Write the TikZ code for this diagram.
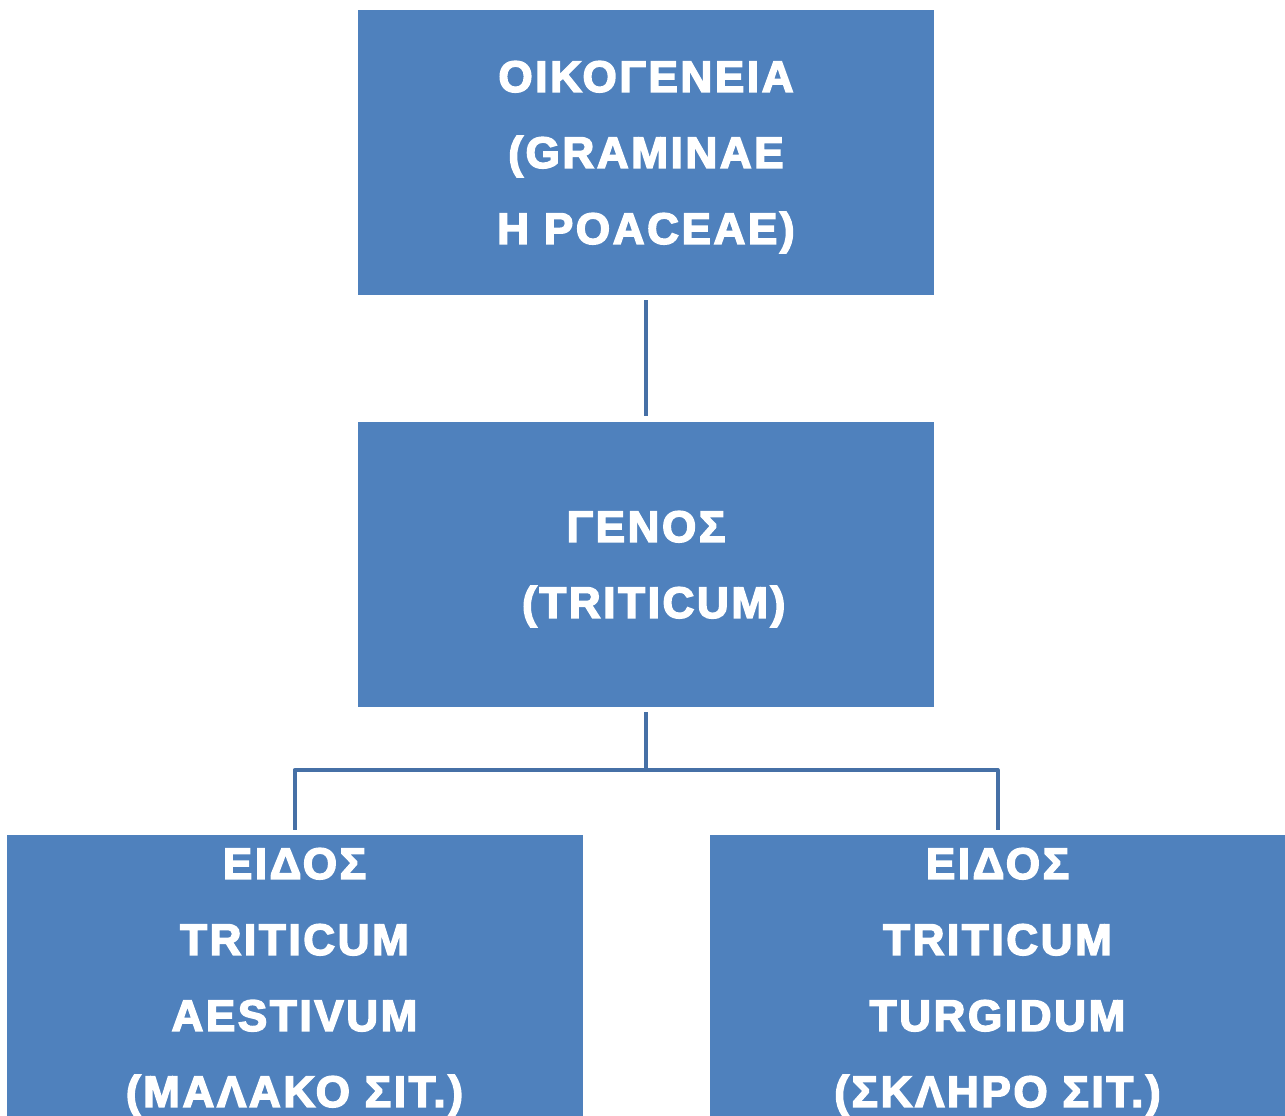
\documentclass[tikz,border=0pt]{standalone}
\usepackage{fontspec}
\newfontfamily\rankfont{Liberation Sans}[LetterSpace=6, BoldFeatures={FakeBold=3.5}]
\definecolor{boxblue}{RGB}{79,129,189}
\definecolor{linkblue}{RGB}{70,112,166}
\tikzset{
  rank/.style={fill=boxblue, text=white, minimum width=576*0.75pt, minimum height=285*0.75pt,
    inner sep=0pt, align=center, text depth=0pt, font=\rankfont\fontsize{33}{57}\selectfont\bfseries},
  link/.style={draw=linkblue, line width=4*0.75pt, line join=round}
}
\begin{document}
\begin{tikzpicture}[x=0.75pt,y=-0.75pt]
\useasboundingbox (0,0) rectangle (1285,1115);

% Oikogeneia
\node [rank] (family) at (646,152.5) {ΟΙΚΟΓΕΝΕΙΑ\\(GRAMINAE\\Η POACEAE)};

% Genos
\node [rank] (genus) at (646,564.5) {ΓΕΝΟΣ\\\hspace*{0.35em}(TRITICUM)};

% Eidi (kommena sto kato akro)
\node [rank] (aestivum) at (294.5,977.5) {ΕΙΔΟΣ\\TRITICUM\\AESTIVUM\\(ΜΑΛΑΚΟ ΣΙΤ.)};
\node [rank] (durum) at (997.5,977.5) {ΕΙΔΟΣ\\TRITICUM\\TURGIDUM\\(ΣΚΛΗΡΟ ΣΙΤ.)};

% Syndeseis
\coordinate (split) at (646,770);
\draw [link, shorten <=5*0.75pt, shorten >=6*0.75pt] (family.south) -- (genus.north);
\draw [link, shorten <=5*0.75pt] (genus.south) -- (split);
\draw [link, shorten >=5*0.75pt] (split) -| (aestivum.north);
\draw [link, shorten >=5*0.75pt] (split) -| (durum.north);
\end{tikzpicture}
\end{document}
